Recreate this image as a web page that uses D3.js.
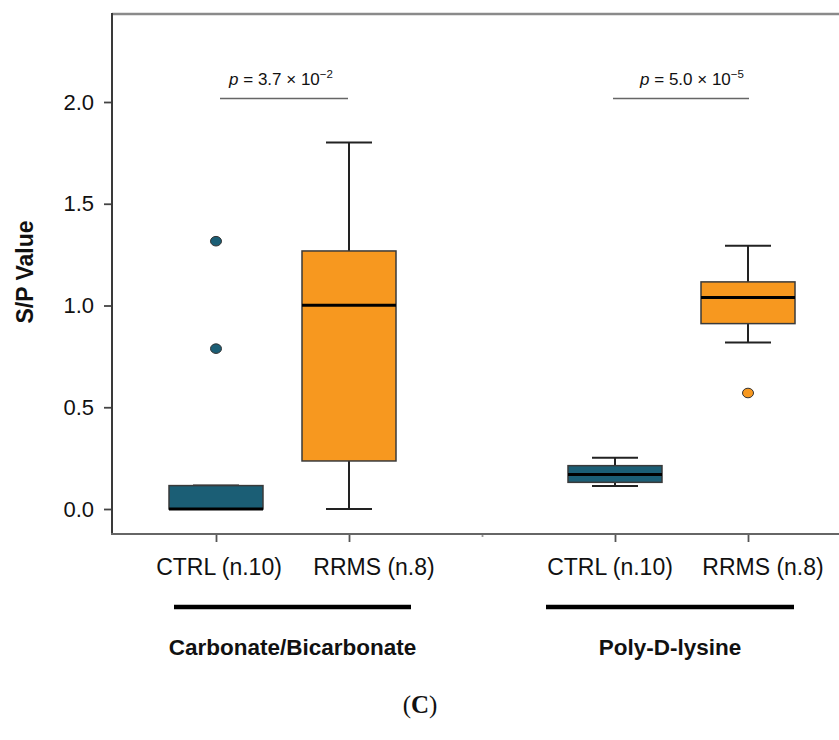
<!DOCTYPE html>
<html>
<head>
<meta charset="utf-8">
<script src="https://cdn.jsdelivr.net/npm/d3@7"></script>
<style>
  html, body { margin: 0; padding: 0; background: #fff; }
  svg { display: block; }
  text { font-family: "Liberation Sans", Arial, Helvetica, sans-serif; fill: #111; }
</style>
</head>
<body>
<svg id="chart" width="839" height="740"></svg>
<script>
// Coating groups and cohorts
const groups = ["Carbonate/Bicarbonate", "Poly-D-lysine"];
const cohorts = ["CTRL (n.10)", "RRMS (n.8)"];
// Slot keys along the x axis (empty slot separates the two coatings)
const slots = ["cb-ctrl", "cb-rrms", "gap", "pdl-ctrl", "pdl-rrms"];
const boxSlots = ["cb-ctrl", "cb-rrms", "pdl-ctrl", "pdl-rrms"];
const boxCohort = [0, 1, 0, 1];

// Box-plot summaries (S/P value) per box slot
const whiskerLow  = [0.000, 0.000, 0.113, 0.818];
const q1          = [0.000, 0.236, 0.131, 0.911];
const median      = [0.000, 1.001, 0.169, 1.039];
const q3          = [0.115, 1.268, 0.213, 1.116];
const whiskerHigh = [0.115, 1.801, 0.252, 1.294];
const outliers    = [[0.788, 1.316], [], [], [0.570]];

// Significance annotations
const pMantissa = ["3.7", "5.0"];
const pExponent = ["\u22122", "\u22125"];

const yTicks = [0, 0.5, 1.0, 1.5, 2.0];

// Colours
const cohortFill = ["#1b5e75", "#f7981f"];

// Layout
const W = 839, H = 740;
const frame = { left: 112, top: 14, bottom: 534 };
const boxWidth = 94, capWidth = 46;
const labelNudge = { "cb-ctrl": 3, "cb-rrms": 25, "pdl-ctrl": -5, "pdl-rrms": 15 };
const groupSpan = [[174, 411], [546, 794]];
const pSpan = [[220, 348], [613, 749]];

const svg = d3.select("#chart");
svg.append("rect").attr("width", W).attr("height", H).attr("fill", "#fff");

const y = d3.scaleLinear().domain([0, 2]).range([509, 102]);
const x = d3.scalePoint().domain(slots).range([216, 748]);

// Frame: top border and axes
svg.append("line")
  .attr("x1", frame.left).attr("x2", W + 5)
  .attr("y1", frame.top).attr("y2", frame.top)
  .attr("stroke", "#8a8a8a").attr("stroke-width", 2.5);

const yAxis = svg.append("g")
  .attr("transform", `translate(${frame.left},0)`)
  .call(d3.axisLeft(y).tickValues(yTicks).tickFormat(d3.format(".1f")).tickSize(8).tickPadding(10));
yAxis.select(".domain").remove();
yAxis.selectAll(".tick line").attr("stroke", "#444").attr("stroke-width", 1.8);
yAxis.selectAll(".tick text")
  .style("font-family", "'Liberation Sans', Arial, sans-serif")
  .attr("font-size", 22).attr("fill", "#111");
svg.append("line")
  .attr("x1", frame.left).attr("x2", frame.left)
  .attr("y1", frame.top - 1).attr("y2", frame.bottom + 1)
  .attr("stroke", "#3a3a3a").attr("stroke-width", 2);

const xAxis = svg.append("g")
  .attr("transform", `translate(0,${frame.bottom})`)
  .call(d3.axisBottom(x).tickSize(8).tickFormat(""));
xAxis.select(".domain").remove();
xAxis.selectAll(".tick line").attr("stroke", "#555").attr("stroke-width", 1.8)
  .filter(d => d === "gap").attr("y2", 3).attr("stroke", "#999");
svg.append("line")
  .attr("x1", frame.left - 1).attr("x2", W + 5)
  .attr("y1", frame.bottom).attr("y2", frame.bottom)
  .attr("stroke", "#666").attr("stroke-width", 2);

// Cohort labels under each tick
svg.append("g").selectAll("text")
  .data(boxSlots)
  .join("text")
  .attr("x", d => x(d) + labelNudge[d])
  .attr("y", 575)
  .attr("text-anchor", "middle")
  .attr("font-size", 23)
  .text((d, i) => cohorts[boxCohort[i]]);

// Group underlines and names
groups.forEach((g, i) => {
  svg.append("line")
    .attr("x1", groupSpan[i][0]).attr("x2", groupSpan[i][1])
    .attr("y1", 607).attr("y2", 607)
    .attr("stroke", "#000").attr("stroke-width", 4.5);
  svg.append("text")
    .attr("x", (groupSpan[i][0] + groupSpan[i][1]) / 2)
    .attr("y", 655)
    .attr("text-anchor", "middle")
    .attr("font-size", 22.5)
    .attr("font-weight", "bold")
    .text(g);
});

// Y axis title
svg.append("text")
  .attr("transform", "translate(33,272) rotate(-90)")
  .attr("text-anchor", "middle")
  .attr("font-size", 23)
  .attr("font-weight", "bold")
  .text("S/P Value");

// Box plots
const boxes = svg.append("g").selectAll("g")
  .data(boxSlots)
  .join("g")
  .attr("transform", d => `translate(${x(d)},0)`);

boxes.append("line")
  .attr("y1", (d, i) => y(whiskerLow[i])).attr("y2", (d, i) => y(whiskerHigh[i]))
  .attr("stroke", "#222").attr("stroke-width", 2);
boxes.append("line")
  .attr("x1", -capWidth / 2).attr("x2", capWidth / 2)
  .attr("y1", (d, i) => y(whiskerHigh[i])).attr("y2", (d, i) => y(whiskerHigh[i]))
  .attr("stroke", "#222").attr("stroke-width", 2);
boxes.append("line")
  .attr("x1", -capWidth / 2).attr("x2", capWidth / 2)
  .attr("y1", (d, i) => y(whiskerLow[i])).attr("y2", (d, i) => y(whiskerLow[i]))
  .attr("stroke", "#222").attr("stroke-width", 2);
boxes.append("rect")
  .attr("x", -boxWidth / 2).attr("width", boxWidth)
  .attr("y", (d, i) => y(q3[i]))
  .attr("height", (d, i) => Math.max(0, y(q1[i]) - y(q3[i])))
  .attr("fill", (d, i) => cohortFill[boxCohort[i]])
  .attr("stroke", "#3a3a3a").attr("stroke-width", 1.5);
boxes.append("line")
  .attr("x1", -boxWidth / 2).attr("x2", boxWidth / 2)
  .attr("y1", (d, i) => y(median[i])).attr("y2", (d, i) => y(median[i]))
  .attr("stroke", "#000").attr("stroke-width", 3);

// Outlier points
boxes.each(function (d, i) {
  d3.select(this).selectAll("ellipse")
    .data(outliers[i])
    .join("ellipse")
    .attr("cx", 0).attr("cy", v => y(v))
    .attr("rx", 5.5).attr("ry", 4.8)
    .attr("fill", cohortFill[boxCohort[i]])
    .attr("stroke", "#333").attr("stroke-width", 1);
});

// Significance brackets
pMantissa.forEach((m, i) => {
  svg.append("line")
    .attr("x1", pSpan[i][0]).attr("x2", pSpan[i][1])
    .attr("y1", 98.5).attr("y2", 98.5)
    .attr("stroke", "#666").attr("stroke-width", 1.5);
  const t = svg.append("text")
    .attr("x", (pSpan[i][0] + pSpan[i][1]) / 2 + (i === 0 ? -3 : 11))
    .attr("y", 85)
    .attr("text-anchor", "middle")
    .attr("font-size", 17);
  t.append("tspan").attr("font-style", "italic").text("p");
  t.append("tspan").text(` = ${m} \u00d7 10`);
  t.append("tspan").attr("font-size", 11.5).attr("dy", -7).text(pExponent[i]);
});

// Panel letter
const panel = svg.append("text")
  .attr("x", 420).attr("y", 713)
  .attr("text-anchor", "middle")
  .style("font-family", "'Liberation Serif', 'Times New Roman', serif")
  .attr("font-size", 25);
panel.append("tspan").text("(");
panel.append("tspan").attr("font-weight", "bold").text("C");
panel.append("tspan").text(")");
</script>
</body>
</html>
